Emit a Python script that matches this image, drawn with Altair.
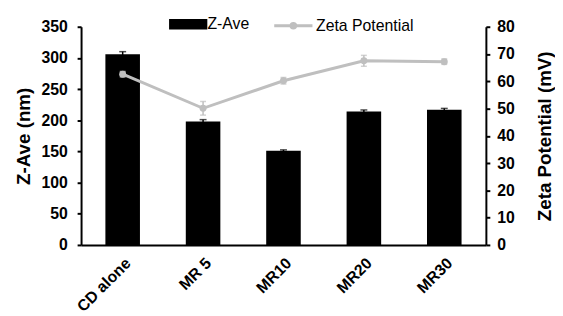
import altair as alt
import pandas as pd

categories = ["CD alone", "MR 5", "MR10", "MR20", "MR30"]
z_ave = [306, 198, 151, 214, 217]
z_ave_err = [4, 3, 1.5, 2.5, 2]
zeta = [62.6, 50.1, 60.2, 67.5, 67.2]
zeta_err = [1.0, 2.5, 1.2, 2.0, 1.0]

df = pd.DataFrame({
    "cat": categories,
    "z": z_ave,
    "z_lo": [v - e for v, e in zip(z_ave, z_ave_err)],
    "z_hi": [v + e for v, e in zip(z_ave, z_ave_err)],
    "zeta": zeta,
    "zeta_lo": [v - e for v, e in zip(zeta, zeta_err)],
    "zeta_hi": [v + e for v, e in zip(zeta, zeta_err)],
    "s1": ["Z-Ave"] * 5,
    "s2": ["Zeta Potential"] * 5,
})

FONT = "Liberation Sans"
GRAY = "#bfbfbf"

xenc = alt.X("cat:N", sort=categories, title=None,
             scale=alt.Scale(paddingInner=0.565, paddingOuter=0.30),
             axis=alt.Axis(labelAngle=-45, labelFont=FONT, labelFontSize=16,
                           labelFontWeight="bold", labelColor="black",
                           domainColor="black", domainWidth=2, ticks=False,
                           labelPadding=10, offset=0))

left_scale = alt.Scale(domain=[0, 350], nice=False)
left_axis = alt.Axis(values=list(range(0, 351, 50)), title="Z-Ave (nm)",
                     titleFont=FONT, titleFontSize=19, titleFontWeight="bold",
                     titleColor="black", labelFont=FONT, labelFontSize=16,
                     labelFontWeight="bold", labelColor="black",
                     labelOverlap=False, labelPadding=10,
                     domainColor="black", domainWidth=2, tickColor="black",
                     tickWidth=2, tickSize=4, grid=False, titlePadding=8,
                     offset=0)
right_scale = alt.Scale(domain=[0, 80], nice=False)
right_axis = alt.Axis(orient="right", values=list(range(0, 81, 10)),
                      title="Zeta Potential (mV)", titleFont=FONT,
                      titleFontSize=19, titleFontWeight="bold",
                      titleColor="black", titleAngle=270, titleBaseline="top",
                      labelFont=FONT, labelFontSize=16,
                      labelFontWeight="bold", labelColor="black",
                      labelOverlap=False, labelPadding=7,
                      domainColor="black", domainWidth=2, tickColor="black",
                      tickWidth=2, tickSize=4, grid=False, titlePadding=22,
                      offset=0)


def ly(field):
    return alt.Y(field, scale=left_scale, axis=left_axis, title="Z-Ave (nm)")


def ry(field):
    return alt.Y(field, scale=right_scale, axis=right_axis,
                 title="Zeta Potential (mV)")


base = alt.Chart(df)

bars = base.mark_bar(size=35).encode(
    x=xenc,
    y=ly("z:Q"),
    fill=alt.Fill("s1:N", scale=alt.Scale(domain=["Z-Ave"], range=["black"]),
                  legend=alt.Legend(title=None, orient="none", legendX=89,
                                    legendY=-22,
                                    symbolType="M-1,-0.28H1V0.28H-1Z",
                                    symbolSize=1500, symbolStrokeWidth=0,
                                    labelFont=FONT, labelFontSize=16,
                                    labelColor="black", labelOffset=0)),
)
bar_err = base.mark_rule(color="black", strokeWidth=1.5).encode(
    x=xenc,
    y=ly("z_lo:Q"),
    y2="z_hi:Q",
)
bar_cap = base.mark_tick(color="black", thickness=1.5, size=7, orient="horizontal").encode(
    x=xenc,
    y=ly("z_hi:Q"),
)
left_layer = alt.layer(bars, bar_err, bar_cap)

line = base.mark_line(color=GRAY, strokeWidth=3).encode(
    x=xenc,
    y=ry("zeta:Q"),
    stroke=alt.Stroke("s2:N", scale=alt.Scale(domain=["Zeta Potential"], range=[GRAY]),
                      legend=alt.Legend(title=None, orient="none", legendX=194,
                                        legendY=-22,
                                        symbolType="M-1,0H1M0.12,0A0.12,0.12,0,1,1,-0.12,0A0.12,0.12,0,1,1,0.12,0Z",
                                        symbolSize=1500, symbolStrokeWidth=3,
                                        symbolFillColor=GRAY,
                                        labelFont=FONT, labelFontSize=16,
                                        labelColor="black", labelOffset=2)),
)
pts = base.mark_point(filled=True, color=GRAY, size=50, opacity=1).encode(
    x=xenc,
    y=ry("zeta:Q"),
)
zeta_err_rule = base.mark_rule(color=GRAY, strokeWidth=1.5).encode(
    x=xenc,
    y=ry("zeta_lo:Q"),
    y2="zeta_hi:Q",
)
zeta_cap_hi = base.mark_tick(color=GRAY, thickness=1.5, size=6, orient="horizontal").encode(
    x=xenc,
    y=ry("zeta_hi:Q"),
)
zeta_cap_lo = base.mark_tick(color=GRAY, thickness=1.5, size=6, orient="horizontal").encode(
    x=xenc,
    y=ry("zeta_lo:Q"),
)
right_layer = alt.layer(line, zeta_err_rule, zeta_cap_hi, zeta_cap_lo, pts)

chart = alt.layer(left_layer, right_layer).resolve_scale(
    y="independent", fill="independent", stroke="independent"
).properties(
    width=410, height=221,
    autosize=alt.AutoSizeParams(type="none"),
    padding={"left": 74, "top": 17, "right": 70, "bottom": 70},
    background="white",
).configure_view(stroke=None)

chart.save("out.html", embed_options={"renderer": "svg", "actions": False})
